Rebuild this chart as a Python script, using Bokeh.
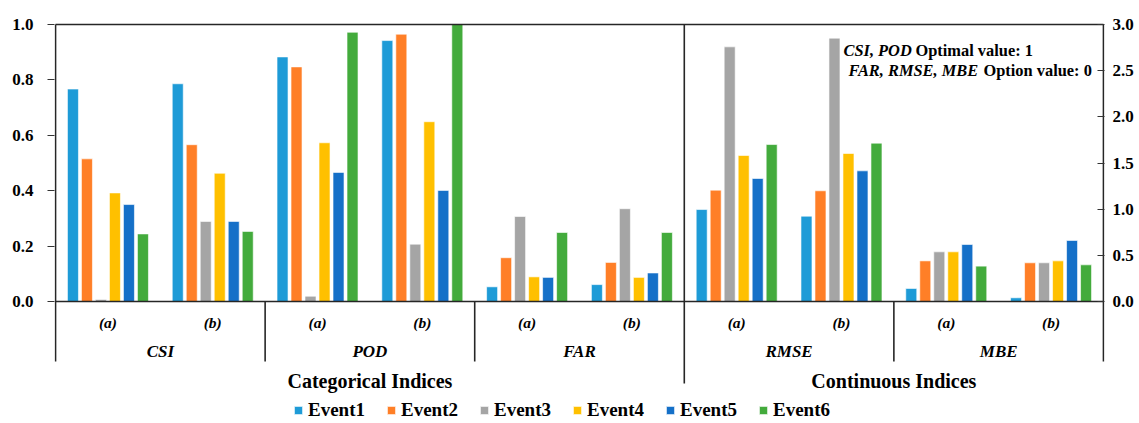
from bokeh.plotting import figure
from bokeh.models import (FactorRange, Range1d, LinearAxis, FixedTicker, NumeralTickFormatter,
                          ColumnDataSource, Legend, LegendItem)
from bokeh.transform import dodge
from bokeh.core.properties import value
from bokeh.embed import file_html
from bokeh.resources import INLINE

# ---------------- data ----------------
events = ["Event1", "Event2", "Event3", "Event4", "Event5", "Event6"]
colors = ["#1E9BD7", "#FF7F27", "#A5A5A5", "#FFC000", "#1570C8", "#43AB3C"]

group_names = ["Categorical Indices", "Continuous Indices"]
categorical_indices = ["CSI", "POD", "FAR"]
continuous_indices = ["RMSE", "MBE"]
cases = ["(a)", "(b)"]

CSI_a = [0.767, 0.515, 0.007, 0.392, 0.350, 0.244]
CSI_b = [0.786, 0.566, 0.289, 0.463, 0.289, 0.253]
POD_a = [0.883, 0.847, 0.019, 0.573, 0.466, 0.972]
POD_b = [0.942, 0.965, 0.207, 0.649, 0.401, 1.000]
FAR_a = [0.053, 0.158, 0.307, 0.089, 0.087, 0.249]
FAR_b = [0.061, 0.141, 0.335, 0.087, 0.103, 0.249]
RMSE_a = [0.996, 1.206, 2.758, 1.581, 1.332, 1.700]
RMSE_b = [0.924, 1.199, 2.852, 1.603, 1.415, 1.715]
MBE_a = [0.141, 0.440, 0.538, 0.538, 0.617, 0.383]
MBE_b = [0.040, 0.419, 0.419, 0.440, 0.661, 0.397]

left_ticks = [0.0, 0.2, 0.4, 0.6, 0.8, 1.0]
right_ticks = [0.0, 0.5, 1.0, 1.5, 2.0, 2.5, 3.0]

note_italic = ["CSI, POD", "FAR, RMSE, MBE"]
note_plain = ["Optimal value: 1", "Option value: 0"]

table = {
    ("CSI", "(a)"): CSI_a, ("CSI", "(b)"): CSI_b,
    ("POD", "(a)"): POD_a, ("POD", "(b)"): POD_b,
    ("FAR", "(a)"): FAR_a, ("FAR", "(b)"): FAR_b,
    ("RMSE", "(a)"): RMSE_a, ("RMSE", "(b)"): RMSE_b,
    ("MBE", "(a)"): MBE_a, ("MBE", "(b)"): MBE_b,
}

# ---------------- layout constants ----------------
FONT = "Liberation Serif"
W, H = 1139, 423
B_LEFT, B_RIGHT, B_TOP = 54, 35, 21
FRAME_W = W - B_LEFT - B_RIGHT
FRAME_H = H - B_TOP
X_PAD = 0.01
PXU = 277.0                      # px per unit on the left axis
Y_END = 1.0 + 3.0 / PXU
Y_START = Y_END - FRAME_H / PXU
RIGHT_SCALE = 3.0


def ydat(px_below_zero):
    return -px_below_zero / PXU


Y_SUB = ydat(21)
Y_IDX = ydat(50)
Y_GRP = ydat(79)
Y_SEP = ydat(60)
Y_MID = ydat(82)

factors_left = [(group_names[0], i, c) for i in categorical_indices for c in cases]
factors_right = [(group_names[1], i, c) for i in continuous_indices for c in cases]
factors = factors_left + factors_right
n = len(factors)

x_range = FactorRange(*factors, factor_padding=0, subgroup_padding=0, group_padding=0,
                      range_padding=X_PAD, range_padding_units="absolute")

p = figure(width=W, height=H, x_range=x_range, y_range=Range1d(Y_START, Y_END),
           output_backend="svg", toolbar_location=None, title=None,
           x_axis_location=None, y_axis_location="left",
           min_border_left=B_LEFT, min_border_right=B_RIGHT,
           min_border_top=B_TOP, min_border_bottom=0)
p.extra_y_ranges = {"right": Range1d(Y_START * RIGHT_SCALE, Y_END * RIGHT_SCALE)}
p.grid.visible = False
p.outline_line_color = None
p.background_fill_color = "white"
p.border_fill_color = "white"

# ---------------- axes ----------------
ya = p.yaxis[0]
ya.ticker = FixedTicker(ticks=left_ticks)
ya.formatter = NumeralTickFormatter(format="0.0")
ya.axis_line_color = None
ya.minor_tick_line_color = None
ya.major_tick_in = 0
ya.major_tick_out = 7
ya.major_tick_line_color = "#333333"
ya.major_label_standoff = 14
ya.major_label_text_font = FONT
ya.major_label_text_font_style = "bold"
ya.major_label_text_font_size = "17px"
ya.major_label_text_color = "black"

ra = LinearAxis(y_range_name="right", ticker=FixedTicker(ticks=right_ticks),
                formatter=NumeralTickFormatter(format="0.0"))
ra.axis_line_color = None
ra.minor_tick_line_color = None
ra.major_tick_in = 7
ra.major_tick_out = 0
ra.major_tick_line_color = "#333333"
ra.major_label_standoff = 8
ra.major_label_text_font = FONT
ra.major_label_text_font_style = "bold"
ra.major_label_text_font_size = "17px"
ra.major_label_text_color = "black"
p.add_layout(ra, "right")

# ---------------- bars ----------------
PITCH = 14.0 / 104.8
BAR_W = 11.0 / 104.8
items = []
for k, ev in enumerate(events):
    off = (k - (len(events) - 1) / 2) * PITCH
    src_l = ColumnDataSource(dict(x=factors_left,
                                  top=[table[(f[1], f[2])][k] for f in factors_left]))
    src_r = ColumnDataSource(dict(x=factors_right,
                                  top=[table[(f[1], f[2])][k] for f in factors_right]))
    rl = p.vbar(x=dodge("x", off, range=p.x_range), top="top", bottom=0, width=BAR_W,
                source=src_l, fill_color=colors[k], line_color="white", line_width=0.6)
    rr = p.vbar(x=dodge("x", off, range=p.x_range), top="top", bottom=0, width=BAR_W,
                source=src_r, fill_color=colors[k], line_color="white", line_width=0.6,
                y_range_name="right")
    items.append(LegendItem(label=ev, renderers=[rl, rr]))

# ---------------- frame lines & separators ----------------
LC = "#262626"
LW = 1.6
p.segment(x0=[0, 0, 0, n], y0=[0, 1.0, Y_SEP, Y_SEP],
          x1=[n, n, 0, n], y1=[0, 1.0, 1.0, 1.0],
          line_color=LC, line_width=LW)
seps = [len(cases) * (i + 1) for i in range(len(categorical_indices) + len(continuous_indices) - 1)]
mid = len(factors_left)
inner = [s for s in seps if s != mid]
p.segment(x0=inner, y0=[0] * len(inner), x1=inner, y1=[Y_SEP] * len(inner),
          line_color=LC, line_width=LW)
p.segment(x0=[mid], y0=[Y_MID], x1=[mid], y1=[1.0], line_color=LC, line_width=LW)

# ---------------- category labels ----------------
p.text(x=factors, y=[Y_SUB] * n, text=[f[2] for f in factors],
       text_font=value(FONT), text_font_style="bold italic", text_font_size="15.5px",
       text_align="center", text_baseline="middle", text_color="black")
idx_x = [(group_names[0], i) for i in categorical_indices] + \
        [(group_names[1], i) for i in continuous_indices]
p.text(x=idx_x, y=[Y_IDX] * len(idx_x), text=[t[1] for t in idx_x],
       text_font=value(FONT), text_font_style="bold italic", text_font_size="17px",
       text_align="center", text_baseline="middle", text_color="black")
p.text(x=group_names, y=[Y_GRP] * len(group_names), text=group_names,
       text_font=value(FONT), text_font_style="bold", text_font_size="20px",
       text_align="center", text_baseline="middle", text_color="black")

# ---------------- note ----------------
NOTE_X = [7.519, 7.567]
NOTE_Y = [0.906, 0.834]
NOTE_OFF = [72, 135]
p.text(x=NOTE_X, y=NOTE_Y, text=note_italic, text_font=value(FONT),
       text_font_style="bold italic", text_font_size="16.4px",
       text_align="left", text_baseline="middle", text_color="black")
p.text(x=NOTE_X, y=NOTE_Y, text=note_plain, x_offset=NOTE_OFF, text_font=value(FONT),
       text_font_style="bold", text_font_size="16.4px",
       text_align="left", text_baseline="middle", text_color="black")

# ---------------- legend ----------------
legend = Legend(items=items, orientation="horizontal", location=(239, 2),
                glyph_width=10, glyph_height=10, label_standoff=5, spacing=21,
                padding=0, margin=0, border_line_color=None, background_fill_alpha=0,
                label_text_font=FONT, label_text_font_style="bold",
                label_text_font_size="19px", label_text_color="black")
p.add_layout(legend)

open("out.html", "w").write(file_html(p, INLINE))
